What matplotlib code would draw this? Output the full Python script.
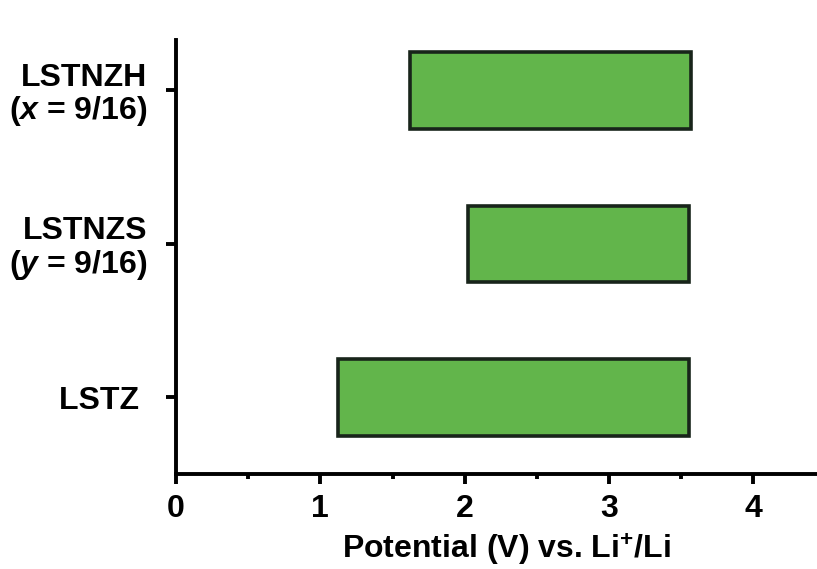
import matplotlib
matplotlib.use("Agg")
import matplotlib.pyplot as plt
from matplotlib.ticker import MultipleLocator

plt.rcParams["font.family"] = ["Liberation Sans", "DejaVu Sans"]
plt.rcParams["font.weight"] = "bold"
plt.rcParams["mathtext.fontset"] = "custom"
plt.rcParams["mathtext.it"] = "Liberation Sans:italic:bold"
plt.rcParams["mathtext.rm"] = "Liberation Sans:bold"
plt.rcParams["mathtext.bf"] = "Liberation Sans:bold"

# Electrochemical stability windows (V vs. Li+/Li)
categories = ["LSTZ ", "LSTNZS\n($y$ = 9/16)", "LSTNZH\n($x$ = 9/16)"]
lower_limit = [1.12, 2.02, 1.62]
upper_limit = [3.55, 3.55, 3.57]
x_ticks = [0, 1, 2, 3, 4]

fig = plt.figure(figsize=(8.17, 5.69), dpi=100)
ax = fig.add_axes([0.2154, 0.167, 0.7846, 0.763])

widths = [u - l for l, u in zip(lower_limit, upper_limit)]
ax.barh(range(len(categories)), widths, left=lower_limit, height=0.5,
        color="#62b54b", edgecolor="#18241a", linewidth=2.6, zorder=3)

ax.set_xlim(0, 4.44)
ax.set_ylim(-0.5, 2.33)
ax.set_xticks(x_ticks)
ax.xaxis.set_minor_locator(MultipleLocator(0.5))
ax.set_yticks(range(len(categories)))
ax.set_yticklabels(categories, fontsize=23, fontweight="bold",
                   ha="right", multialignment="right", linespacing=1.05)

for s in ["top", "right"]:
    ax.spines[s].set_visible(False)
for s in ["left", "bottom"]:
    ax.spines[s].set_linewidth(2.8)

ax.tick_params(axis="both", which="major", direction="out", length=7.5,
               width=2.8, labelsize=23, pad=7)
ax.tick_params(axis="x", which="minor", direction="out", length=3.5, width=2.8)
ax.tick_params(axis="y", which="major", pad=13)
for lbl in ax.get_xticklabels():
    lbl.set_fontweight("bold")

ax.set_xlabel("Potential (V) vs. Li$^{+}$/Li", fontsize=23,
              fontweight="bold", va="baseline")
ax.xaxis.set_label_coords(0.515, -0.196)

fig.savefig("out.png", dpi=100)
